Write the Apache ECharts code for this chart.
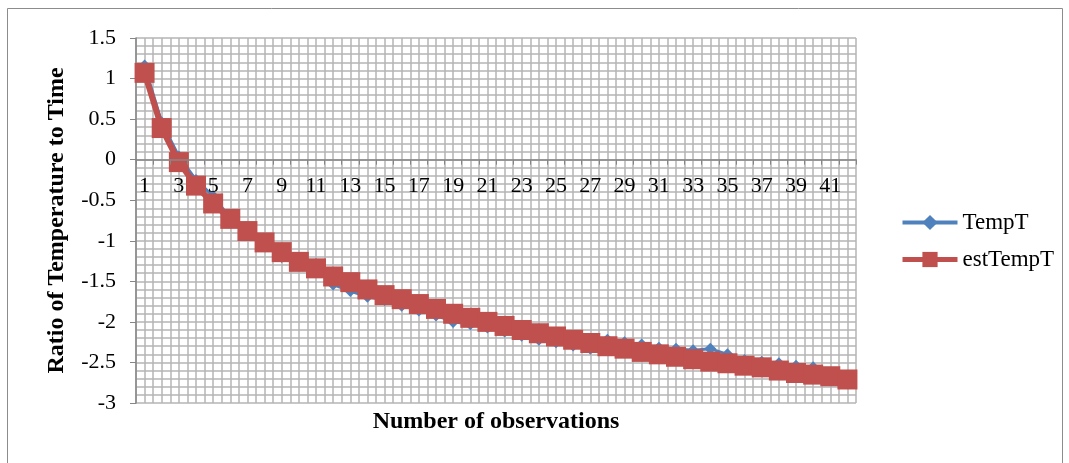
<!DOCTYPE html>
<html>
<head>
<meta charset="utf-8">
<script src="https://cdn.jsdelivr.net/npm/echarts@6/dist/echarts.min.js"></script>
<style>
html,body{margin:0;padding:0;background:#fff;}
#c{width:1069px;height:463px;}
</style>
</head>
<body>
<div id="c"></div>
<script>
var categories = [];
for (var i = 1; i <= 42; i++) categories.push(String(i));

var tempT = [1.16, 0.46, 0.04, -0.25, -0.45, -0.72, -0.85, -1.02, -1.20, -1.27,
  -1.29, -1.54, -1.62, -1.69, -1.73, -1.80, -1.86, -1.92, -2.00, -2.03,
  -2.07, -2.12, -2.17, -2.22, -2.25, -2.29, -2.33, -2.22, -2.25, -2.28,
  -2.32, -2.33, -2.35, -2.33, -2.40, -2.47, -2.49, -2.51, -2.54, -2.56,
  -2.67, -2.74];

var estTempT = [1.07, 0.39, -0.03, -0.32, -0.54, -0.73, -0.88, -1.02, -1.14, -1.26,
  -1.34, -1.44, -1.51, -1.60, -1.67, -1.72, -1.78, -1.84, -1.90, -1.95,
  -2.00, -2.05, -2.10, -2.14, -2.18, -2.22, -2.26, -2.30, -2.33, -2.37,
  -2.40, -2.43, -2.46, -2.49, -2.51, -2.54, -2.56, -2.60, -2.63, -2.65,
  -2.67, -2.71];

var yTicks = {min: -3, max: 1.5, step: 0.5};
var seriesNames = ['TempT', 'estTempT'];
var xTitle = 'Number of observations';
var yTitle = 'Ratio of Temperature to Time';

var FONT = '"Liberation Serif", "Times New Roman", serif';
var GRIDC = '#b5b5b5';
var BLUE = '#4F81BD', RED = '#C0504D';
var GRID = {left: 136, right: 213, top: 38, bottom: 60};
var plotH = 463 - GRID.top - GRID.bottom;
// vertical position of value 0 inside the plot, from the bottom edge
var zeroFromBottom = plotH * (0 - yTicks.min) / (yTicks.max - yTicks.min);

var chart = echarts.init(document.getElementById('c'));
chart.setOption({
  backgroundColor: '#ffffff',
  animation: false,
  grid: GRID,
  xAxis: [{
    type: 'category',
    data: categories,
    boundaryGap: true,
    position: 'bottom',
    offset: -zeroFromBottom,
    axisLine: {onZero: false, lineStyle: {color: '#868686', width: 1.5}},
    axisTick: {show: true, interval: 0, length: 5, lineStyle: {color: '#868686'}},
    axisLabel: {interval: 1, color: '#000', fontFamily: FONT, fontSize: 22, margin: 16},
    splitLine: {show: false},
    z: 5
  }, {
    type: 'value',
    min: 0, max: 42, interval: 0.5,
    axisLine: {show: false}, axisTick: {show: false}, axisLabel: {show: false},
    splitLine: {show: true, lineStyle: {color: GRIDC, width: 1.5}}
  }],
  yAxis: {
    type: 'value',
    min: yTicks.min, max: yTicks.max, interval: yTicks.step,
    name: yTitle,
    nameLocation: 'middle',
    nameGap: 67,
    nameRotate: 90,
    nameTextStyle: {fontFamily: FONT, fontSize: 24, fontWeight: 'bold', color: '#000'},
    axisLine: {show: true, onZero: false, lineStyle: {color: '#868686', width: 1.5}},
    axisTick: {show: true, length: 6, lineStyle: {color: '#868686'}},
    axisLabel: {color: '#000', fontFamily: FONT, fontSize: 22, margin: 20,
      formatter: function (v) { return String(Math.round(v * 10) / 10); }},
    splitLine: {show: true, lineStyle: {color: GRIDC, width: 1.5}},
    minorTick: {show: false, splitNumber: 5},
    minorSplitLine: {show: true, lineStyle: {color: GRIDC, width: 1.5}}
  },
  legend: {
    orient: 'vertical',
    left: 895,
    top: 206,
    itemWidth: 55,
    itemHeight: 19,
    itemGap: 14,
    textStyle: {fontFamily: FONT, fontSize: 23, color: '#000'},
    data: [
      {name: seriesNames[0], lineStyle: {width: 4, color: BLUE}},
      {name: seriesNames[1], lineStyle: {width: 5, color: RED}}
    ]
  },
  series: [{
    name: seriesNames[0],
    type: 'line',
    data: tempT,
    symbol: 'diamond',
    symbolSize: 12,
    showAllSymbol: true,
    lineStyle: {color: BLUE, width: 3},
    itemStyle: {color: BLUE},
    z: 3
  }, {
    name: seriesNames[1],
    type: 'line',
    data: estTempT,
    symbol: 'rect',
    symbolSize: 20,
    showAllSymbol: true,
    lineStyle: {color: RED, width: 6},
    itemStyle: {color: RED},
    z: 4
  }],
  graphic: [{
    type: 'rect',
    shape: {x: 7.5, y: 8.5, width: 1055, height: 470},
    style: {fill: 'none', stroke: '#8c8c8c', lineWidth: 1},
    silent: true
  }, {
    type: 'text',
    x: 496, y: 422,
    style: {text: xTitle, font: 'bold 24px ' + FONT, fill: '#000', textAlign: 'center', textVerticalAlign: 'middle'}
  }]
});
</script>
</body>
</html>
